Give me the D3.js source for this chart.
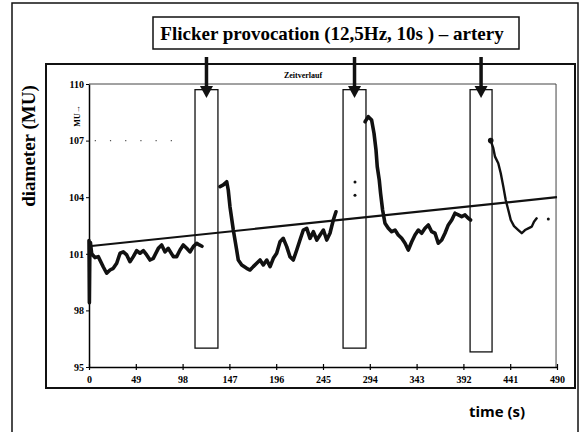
<!DOCTYPE html>
<html>
<head>
<meta charset="utf-8">
<script src="https://cdn.jsdelivr.net/npm/d3@7"></script>
<style>
  body { margin: 0; background: #fff; }
</style>
</head>
<body>
<script>
// data
const xTicks = [0, 49, 98, 147, 196, 245, 294, 343, 392, 441, 490];
const yTicks = [95, 98, 101, 104, 107, 110];

// flicker intervals (start, end in s) and bottom of each box
const flickerStart = [111, 266, 399];
const flickerEnd = [135, 290, 422];
const flickerBottom = [96.0, 96.0, 95.8];

// trend line end points
const trendTime = [0, 490];
const trendValue = [101.4, 104.0];

// measured diameter, one array per stretch between the flicker boxes
const seg1 = [[0,101.7],[0.4,98.4],[0.9,101.3],[1.5,101.6],[2.8,101.0],[6.3,100.8],[9.7,100.85],
  [15,100.3],[18.5,99.97],[22,100.14],[25.4,100.23],[29,100.5],[32.5,101.03],[35.9,101.1],
  [39.5,100.94],[42.9,100.58],[46.4,100.85],[49.9,101.17],[53.4,101.03],[56.9,101.17],
  [60.4,100.94],[63.9,100.67],[67.3,100.76],[72.6,101.29],[76.1,101.47],[79.6,101.1],
  [83,101.29],[88.3,100.85],[91.8,100.85],[95.3,101.2],[98.7,101.47],[102.3,101.29],
  [105.7,101.1],[109.2,101.38],[112.8,101.56],[115.5,101.47],[118.3,101.4]];
const seg2 = [[137.2,104.56],[140.6,104.65],[144.2,104.82],[145.8,104.38],[147.6,103.5],
  [151.1,102.26],[154.6,101.2],[156.3,100.67],[159.9,100.41],[165.1,100.23],[168.6,100.14],
  [172,100.32],[175.6,100.5],[179.1,100.67],[182.5,100.41],[186.1,100.67],[189.6,100.32],
  [193,100.76],[196.5,101.03],[200,101.64],[203.4,101.82],[207,101.38],[210.4,100.85],
  [213.9,100.67],[217.5,101.2],[220.9,101.73],[224.4,102.26],[228,102.35],[231.4,101.82],
  [234.9,102.17],[238.5,101.73],[241.9,102.0],[245.4,102.26],[248.9,101.73],[252.3,102.09],
  [255.8,102.79],[258.6,103.23]];
const seg3 = [[289,108.0],[292.4,108.27],[295.9,108.09],[298.4,107.39],[300.5,106.5],
  [301.8,105.62],[303.9,104.91],[305.3,104.2],[307.4,103.32],[309.9,102.62],[313.4,102.35],
  [316.9,102.17],[320.4,102.26],[323.8,102.0],[327.4,101.82],[330.9,101.56],[334.3,101.2],
  [337.9,101.64],[341.3,102.0],[344.8,102.26],[348.3,102.09],[351.8,102.35],[355.3,102.53],
  [358.8,102.17],[362.3,102.09],[365.7,101.56],[369.3,101.73],[372.7,102.09],[376.2,102.53],
  [379.8,102.79],[383.2,103.15],[386.7,103.06],[390.2,102.97],[393.7,103.06],[397.1,102.88],
  [399.6,102.79]];
const seg4 = [[420.6,107.0],[423.3,106.6],[425.1,106.15],[428.5,105.8],[431.1,105.27],
  [433.8,104.56],[436.3,103.85],[439,103.32],[441.6,102.79],[445,102.47],[449.5,102.26],
  [453.1,102.09],[456.5,102.26],[460,102.35],[463.6,102.44],[465.9,102.7],[468.7,102.88]];
// loose single points
const strayDots = [[278.5,104.8],[278.5,104.1],[480.9,102.85]];

// canvas
const canvWidth = 581, canvHeight = 432;
const svg = d3.select("body").append("svg")
  .attr("width", canvWidth)
  .attr("height", canvHeight)
  .style("background-color", "#fff");

const serif = "'Liberation Serif', 'Times New Roman', serif";

// scales
const x = d3.scaleLinear().domain([0, 490]).range([89, 557]);
const y = d3.scaleLinear().domain([95, 110]).range([367, 84]);

// outer frame and inner frame
svg.append("rect").attr("x", 12).attr("y", 3).attr("width", 566).attr("height", 440)
  .style("fill", "none").style("stroke", "#111").style("stroke-width", 1.5);
svg.append("rect").attr("x", 46).attr("y", 64).attr("width", 529).attr("height", 324)
  .style("fill", "none").style("stroke", "#111").style("stroke-width", 2);

// title box
svg.append("rect").attr("x", 153).attr("y", 17).attr("width", 366).attr("height", 32)
  .style("fill", "#fff").style("stroke", "#111").style("stroke-width", 1.5);
svg.append("text").text("Flicker provocation (12,5Hz, 10s ) \u2013 artery")
  .attr("x", 332).attr("y", 40).attr("text-anchor", "middle")
  .attr("font-family", serif).attr("font-weight", "bold").attr("font-size", "19px");

// axis titles
svg.append("text").text("diameter (MU)")
  .attr("transform", "translate(35,146) rotate(-90)").attr("text-anchor", "middle")
  .attr("font-family", serif).attr("font-weight", "bold").attr("font-size", "19px");
svg.append("text").text("time (s)")
  .attr("x", 497).attr("y", 417).attr("text-anchor", "middle")
  .attr("font-family", "'Open Sans', 'Noto Sans', sans-serif").attr("font-weight", "bold")
  .attr("font-size", "15px");

// plot area top and right border (thin)
svg.append("path")
  .attr("d", "M" + x(0) + "," + y(110) + "H" + x(489) + "V" + y(95))
  .style("fill", "none").style("stroke", "#444").style("stroke-width", 1);

// small labels inside the plot frame
svg.append("text").text("Zeitverlauf")
  .attr("x", 303).attr("y", 78).attr("text-anchor", "middle")
  .attr("font-family", serif).attr("font-weight", "bold").attr("font-size", "8px");
svg.append("text").text("MU\u2192")
  .attr("transform", "translate(80,116) rotate(-90)").attr("text-anchor", "middle")
  .attr("font-family", serif).attr("font-weight", "bold").attr("font-size", "8px");

// faint dotted row at 107
svg.append("line").attr("x1", x(6)).attr("x2", x(100)).attr("y1", y(107)).attr("y2", y(107))
  .style("stroke", "#555").style("stroke-width", 1.2).style("stroke-dasharray", "1.2,14");

// axes
const xAxis = svg.append("g").attr("transform", "translate(0," + y(95) + ")")
  .call(d3.axisBottom(x).tickValues(xTicks).tickSizeInner(3).tickSizeOuter(0).tickPadding(6));
xAxis.selectAll(".tick line").attr("y1", -3).attr("y2", 3).style("stroke-width", 1.2);
xAxis.select(".domain").style("stroke-width", 1.5);
xAxis.selectAll("text").attr("font-family", serif).attr("font-weight", "bold")
  .attr("font-size", "10px");

const yAxis = svg.append("g").attr("transform", "translate(" + x(0) + ",0)")
  .call(d3.axisLeft(y).tickValues(yTicks).tickSizeInner(3).tickSizeOuter(0).tickPadding(2));
yAxis.select(".domain").style("stroke-width", 1.5);
yAxis.selectAll("text").attr("font-family", serif).attr("font-weight", "bold")
  .attr("font-size", "10px");

// trend line
svg.append("line")
  .attr("x1", x(trendTime[0])).attr("y1", y(trendValue[0]))
  .attr("x2", x(trendTime[1])).attr("y2", y(trendValue[1]))
  .style("stroke", "#111").style("stroke-width", 2.2);

// flicker boxes
const boxes = svg.append("g");
flickerStart.forEach(function(s, i) {
  boxes.append("rect")
    .attr("x", x(s)).attr("y", y(109.7))
    .attr("width", x(flickerEnd[i]) - x(s)).attr("height", y(flickerBottom[i]) - y(109.7))
    .style("fill", "none").style("stroke", "#111").style("stroke-width", 1.3);
});

// diameter curve
const line = d3.line().x(d => x(d[0])).y(d => y(d[1]));
[seg1, seg2, seg3].forEach(function(seg) {
  svg.append("path").datum(seg).attr("d", line)
    .style("fill", "none").style("stroke", "#111").style("stroke-width", 3.6)
    .style("stroke-linejoin", "round").style("stroke-linecap", "round");
});
svg.append("path").datum(seg4).attr("d", line)
  .style("fill", "none").style("stroke", "#111").style("stroke-width", 2.4)
  .style("stroke-linejoin", "round").style("stroke-linecap", "round");
svg.append("circle").attr("cx", x(seg4[0][0])).attr("cy", y(seg4[0][1])).attr("r", 2.8)
  .style("fill", "#111");
svg.selectAll(".stray").data(strayDots).enter().append("circle")
  .attr("cx", d => x(d[0])).attr("cy", d => y(d[1])).attr("r", 1.5).style("fill", "#111");

// arrows above each box
const arrows = svg.append("g");
flickerStart.forEach(function(s, i) {
  const cx = x((s + flickerEnd[i]) / 2);
  arrows.append("line").attr("x1", cx).attr("x2", cx).attr("y1", 57).attr("y2", 88)
    .style("stroke", "#111").style("stroke-width", 3.5);
  arrows.append("path")
    .attr("d", "M" + (cx - 6.5) + ",86L" + (cx + 6.5) + ",86L" + cx + ",98Z")
    .style("fill", "#111");
});
</script>
</body>
</html>
